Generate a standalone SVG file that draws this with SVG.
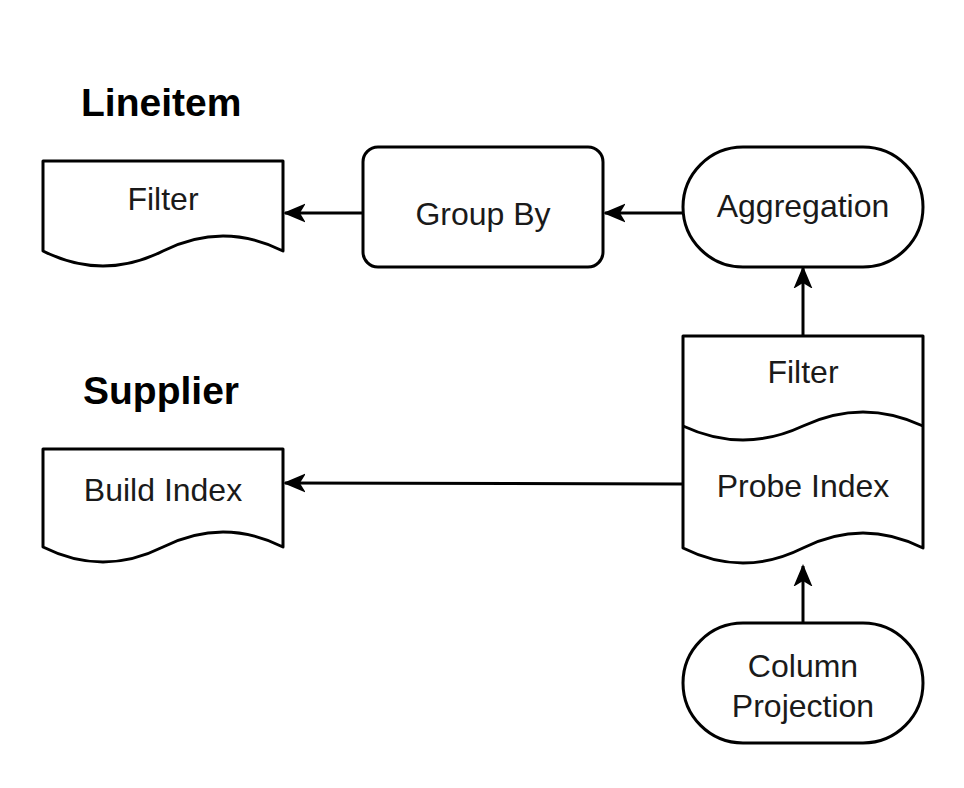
<svg xmlns="http://www.w3.org/2000/svg" width="964" height="788" viewBox="0 0 964 788">
<defs>
<marker id="arr" markerUnits="userSpaceOnUse" markerWidth="24" markerHeight="20" viewBox="-20 -10 24 20" refX="0" refY="0" orient="auto">
<path d="M0,0 L-19,-8 L-14,0 L-19,8 Z" fill="#000" stroke="#000" stroke-width="1.5" stroke-linejoin="miter"/>
</marker>
</defs>
<style>
.s{fill:#fff;stroke:#000;stroke-width:3;stroke-linejoin:round}
.t{font-family:"Liberation Sans",Arial,sans-serif;font-size:32px;fill:#1a1a1a;text-anchor:middle}
.h{font-family:"Liberation Sans",Arial,sans-serif;font-size:39px;font-weight:bold;fill:#000}
.c{fill:none;stroke:#000;stroke-width:3}
</style>
<rect width="964" height="788" fill="#fff"/>
<text class="h" x="81" y="116">Lineitem</text>
<text class="h" x="83" y="404">Supplier</text>
<g id="filter-lineitem">
<path class="s" d="M43,161 H283 V251 Q223,221 163,251 Q103,281 43,251 Z"/>
<text class="t" x="163" y="210">Filter</text>
</g>
<g id="group-by">
<rect class="s" x="363" y="147" width="240" height="120" rx="15"/>
<text class="t" x="483" y="225">Group By</text>
</g>
<g id="aggregation">
<rect class="s" x="683" y="147" width="240" height="120" rx="60"/>
<text class="t" x="803" y="217">Aggregation</text>
</g>
<g id="probe-index">
<path class="s" d="M683,336 H923 V548 Q863,518 803,548 Q743,578 683,548 Z"/>
<path class="c" d="M683,426 Q743,454 803,426 Q863,398 923,426"/>
<text class="t" x="803" y="383">Filter</text>
<text class="t" x="803" y="497">Probe Index</text>
</g>
<g id="build-index">
<path class="s" d="M43,449 H283 V547 Q223,517 163,547 Q103,577 43,547 Z"/>
<text class="t" x="163" y="501">Build Index</text>
</g>
<g id="column-projection">
<rect class="s" x="683" y="623" width="240" height="120" rx="60"/>
<text class="t" x="803" y="677">Column</text>
<text class="t" x="803" y="717">Projection</text>
</g>
<g id="connectors">
<path class="c" d="M363,213 L285,213" marker-end="url(#arr)"/>
<path class="c" d="M683,213 L605,213" marker-end="url(#arr)"/>
<path class="c" d="M803,336 L803,268" marker-end="url(#arr)"/>
<path class="c" d="M683,484 L285,483" marker-end="url(#arr)"/>
<path class="c" d="M803,623 L803,566" marker-end="url(#arr)"/>
</g>
</svg>
